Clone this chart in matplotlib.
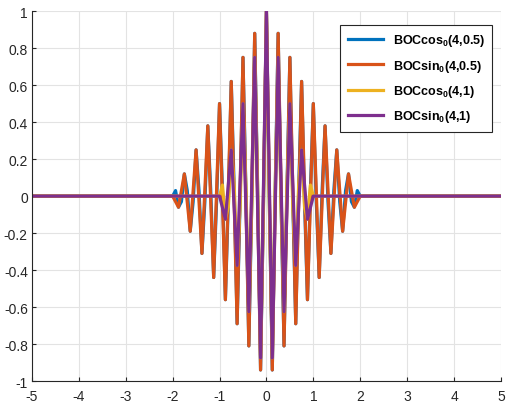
import numpy as np
import matplotlib
matplotlib.use("Agg")
import matplotlib.pyplot as plt

plt.rcParams['font.family'] = ['Liberation Sans', 'DejaVu Sans']
plt.rcParams['axes.unicode_minus'] = False
plt.rcParams['mathtext.fontset'] = 'custom'
plt.rcParams['mathtext.rm'] = 'Liberation Sans'
plt.rcParams['mathtext.bf'] = 'Liberation Sans:bold'

# ACF values at the knots, tau >= 0 (curves are symmetric)
# sin-phased: knots every 0.125, cos-phased: knots every 0.0625
sin_05_half = [1, -0.94, 0.88, -0.81, 0.75, -0.69, 0.62, -0.56, 0.5,
               -0.44, 0.38, -0.31, 0.25, -0.19, 0.12, -0.06, 0]
cos_05_half = [1, -0.03, -0.94, 0.03, 0.88, -0.03, -0.81, 0.03, 0.75,
               -0.03, -0.69, 0.03, 0.62, -0.03, -0.56, 0.03, 0.5,
               -0.03, -0.44, 0.03, 0.38, -0.03, -0.31, 0.03, 0.25,
               -0.03, -0.19, 0.03, 0.12, -0.03, -0.06, 0.03, 0]
sin_1_half = [1, -0.875, 0.75, -0.625, 0.5, -0.375, 0.25, -0.125, 0]
cos_1_half = [1, -0.06, -0.875, 0.06, 0.75, -0.06, -0.625, 0.06, 0.5,
              -0.06, -0.375, 0.06, 0.25, -0.06, -0.125, 0.06, 0]

labels = [r'BOCcos$_\mathbf{0}$(4,0.5)', r'BOCsin$_\mathbf{0}$(4,0.5)',
          r'BOCcos$_\mathbf{0}$(4,1)', r'BOCsin$_\mathbf{0}$(4,1)']
colors = ['#0072BD', '#D95319', '#EDB120', '#7E2F8E']


def full_curve(half, step):
    half = np.asarray(half, dtype=float)
    tau = np.arange(len(half)) * step
    x = np.concatenate([[-5], -tau[:0:-1], tau, [5]])
    y = np.concatenate([[0], half[:0:-1], half, [0]])
    return x, y


curves = [full_curve(cos_05_half, 0.0625), full_curve(sin_05_half, 0.125),
          full_curve(cos_1_half, 0.0625), full_curve(sin_1_half, 0.125)]

fig = plt.figure(figsize=(5.07, 4.06), dpi=100)
ax = fig.add_axes([0.063, 0.059, 0.925, 0.911])

for (x, y), c, lab in zip(curves, colors, labels):
    ax.plot(x, y, color=c, linewidth=2.3, label=lab)

ax.set_xlim(-5, 5)
ax.set_ylim(-1, 1)
ax.set_xticks(np.arange(-5, 6, 1))
ax.set_yticks(np.round(np.arange(-1, 1.01, 0.2), 1))
ax.set_yticklabels(['-1', '-0.8', '-0.6', '-0.4', '-0.2', '0',
                    '0.2', '0.4', '0.6', '0.8', '1'])
ax.grid(True, color='#e3e3e3', linewidth=0.8)
ax.set_axisbelow(True)
ax.spines['top'].set_visible(False)
ax.spines['right'].set_visible(False)
for s in ['left', 'bottom']:
    ax.spines[s].set_color('#262626')
    ax.spines[s].set_linewidth(0.8)
ax.tick_params(direction='in', length=3, labelsize=10, colors='#262626',
               width=0.8)
ax.tick_params(axis='y', pad=3)
ax.tick_params(axis='x', pad=6)

leg = ax.legend(loc='upper right', bbox_to_anchor=(0.995, 0.98), fancybox=False,
                edgecolor='#262626', framealpha=1, handlelength=2.8,
                prop={'weight': 'bold', 'size': 9}, borderpad=0.6,
                labelspacing=0.75)
leg.get_frame().set_linewidth(0.8)

fig.savefig('out.png', dpi=100)
